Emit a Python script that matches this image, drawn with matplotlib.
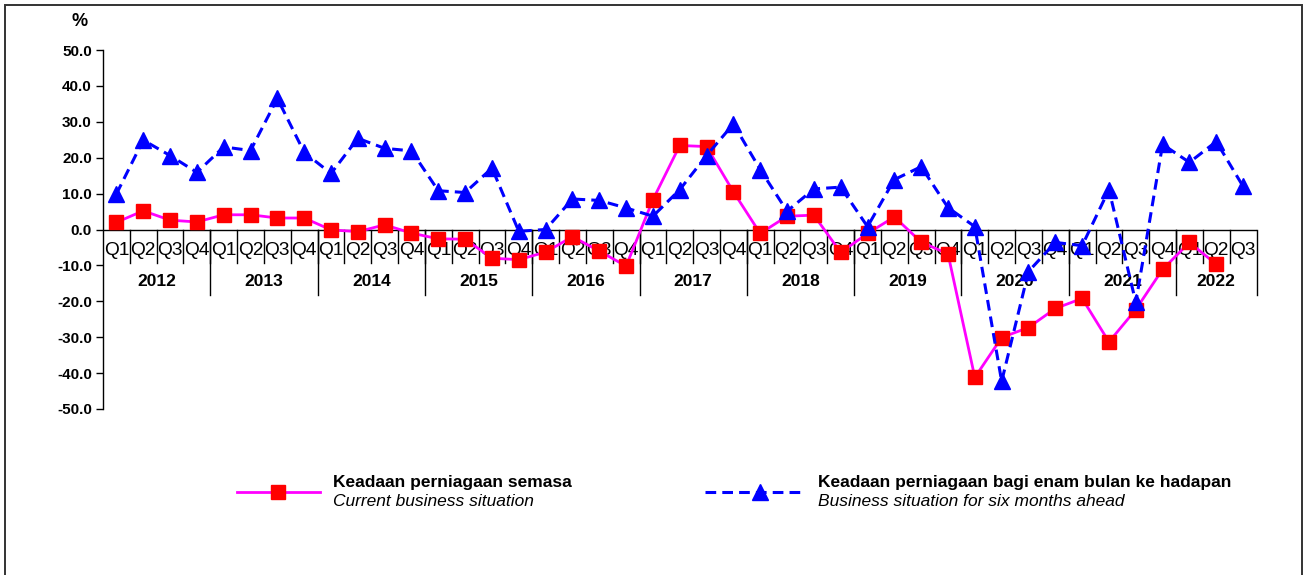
import matplotlib
matplotlib.use("Agg")
import matplotlib.pyplot as plt
from matplotlib.lines import Line2D
from matplotlib.patches import Rectangle
from matplotlib.ticker import FuncFormatter, MultipleLocator
import numpy as np

plt.rcParams['font.family'] = ['Liberation Sans', 'DejaVu Sans']

years = ['2012', '2013', '2014', '2015', '2016', '2017', '2018', '2019', '2020', '2021', '2022']
quarters = ['Q1', 'Q2', 'Q3', 'Q4']
n_last_year_q = 3

current = [2.0, 5.2, 2.6, 2.1,
           4.1, 4.1, 3.2, 3.2,
           -0.1, -0.6, 1.3, -1.0,
           -2.6, -2.7, -8.0, -8.4,
           -6.3, -2.0, -6.0, -10.2,
           8.3, 23.4, 23.1, 10.5,
           -1.1, 3.7, 4.0, -6.4,
           -1.1, 3.5, -3.5, -6.8,
           -41.2, -30.1, -27.3, -22.0,
           -19.2, -31.3, -22.3, -11.1,
           -3.6, -9.7, np.nan]

ahead = [9.9, 24.9, 20.6, 15.9,
         23.0, 22.0, 36.5, 21.5,
         15.6, 25.4, 22.6, 21.9,
         10.8, 10.3, 17.1, -0.5,
         0.0, 8.5, 8.1, 6.0,
         3.7, 11.1, 20.6, 29.4,
         16.7, 5.1, 11.3, 11.8,
         0.8, 13.9, 17.5, 6.1,
         0.8, -42.3, -11.7, -3.6,
         -4.5, 11.1, -20.3, 23.7,
         18.7, 24.5, 12.0]

label_current_bold = 'Keadaan perniagaan semasa'
label_current_it = 'Current business situation'
label_ahead_bold = 'Keadaan perniagaan bagi enam bulan ke hadapan'
label_ahead_it = 'Business situation for six months ahead'

W, H = 1310, 575
fig = plt.figure(figsize=(W / 100, H / 100), dpi=100)

# figure frame
fig.add_artist(Rectangle((5 / W, -0.01), (1302 - 5) / W, 1 - 5 / H + 0.01,
                         transform=fig.transFigure, fill=False,
                         edgecolor='#333333', lw=1.4))

ax_left, ax_right = 103 / W, 1256.5 / W
ax_top, ax_bot = 1 - 50 / H, 1 - 409 / H
ax = fig.add_axes([ax_left, ax_bot, ax_right - ax_left, ax_top - ax_bot])

n = len(ahead)
x = np.arange(n)

ax.plot(x, current, color='#FF00FF', lw=2.0, marker='s', markersize=10,
        markerfacecolor='#FF0000', markeredgecolor='#FF0000', zorder=4,
        clip_on=False)
ax.plot(x, ahead, color='#0000FF', lw=2.2, linestyle=(0, (3.5, 2)),
        marker='^', markersize=11, markerfacecolor='#0000FF',
        markeredgecolor='#0000FF', zorder=5, clip_on=False)

ax.set_xlim(-0.5, n - 0.5)
ax.set_ylim(-50, 50)
ax.yaxis.set_major_locator(MultipleLocator(10))
ax.yaxis.set_major_formatter(FuncFormatter(lambda v, p: f"{v:.1f}"))
ax.tick_params(axis='y', direction='out', length=5, width=1, pad=3,
               labelsize=11)
for lbl in ax.get_yticklabels():
    lbl.set_fontweight('bold')
ax.set_xticks([])
for s in ['top', 'right', 'bottom']:
    ax.spines[s].set_visible(False)
ax.spines['left'].set_linewidth(1)

# category axis at zero
ax.axhline(0, color='black', lw=1, zorder=2)
px = 100 / (409 - 50)  # data units per pixel
q_sep_bottom = -(263 - 230) * px
y_sep_bottom = -(295 - 230) * px
q_lab_y = -(251 - 230) * px
y_lab_y = -(282 - 230) * px

labels_q = []
for yi, yr in enumerate(years):
    nq = 4 if yi < len(years) - 1 else n_last_year_q
    labels_q += quarters[:nq]

for i, q in enumerate(labels_q):
    ax.text(i, q_lab_y, q, ha='center', va='center', fontsize=13.8, zorder=1)
    if i < n - 1:
        ax.plot([i + 0.5, i + 0.5], [0, q_sep_bottom], color='black', lw=1,
                zorder=1)

start = 0
for yi, yr in enumerate(years):
    nq = 4 if yi < len(years) - 1 else n_last_year_q
    center = start + (nq - 1) / 2
    ax.text(center, y_lab_y, yr, ha='center', va='center', fontsize=12.5,
            fontweight='bold', zorder=1)
    end = start + nq - 0.5
    ax.plot([end, end], [0, y_sep_bottom], color='black', lw=1, zorder=1,
            clip_on=False)
    start += nq

fig.text(80 / W, 1 - 22 / H, '%', ha='center', va='center', fontsize=13,
         fontweight='bold')

# legend
def fx(p):
    return p / W

def fy(p):
    return 1 - p / H

ly = 492
fig.add_artist(Line2D([fx(237), fx(320)], [fy(ly), fy(ly)], color='#FF00FF',
                      lw=2.0, transform=fig.transFigure))
fig.add_artist(Line2D([fx(278)], [fy(ly)], marker='s', markersize=10,
                      color='#FF0000', linestyle='none',
                      transform=fig.transFigure))
fig.text(fx(333), fy(483), label_current_bold, fontsize=12.5, fontweight='bold',
         ha='left', va='center')
fig.text(fx(333), fy(502), label_current_it, fontsize=12.5, style='italic',
         ha='left', va='center')

fig.add_artist(Line2D([fx(705), fx(805)], [fy(ly), fy(ly)], color='#0000FF',
                      lw=2.2, linestyle=(0, (3.5, 2)),
                      transform=fig.transFigure))
fig.add_artist(Line2D([fx(760)], [fy(ly)], marker='^', markersize=11,
                      color='#0000FF', linestyle='none',
                      transform=fig.transFigure))
fig.text(fx(818), fy(483), label_ahead_bold, fontsize=12.5, fontweight='bold',
         ha='left', va='center')
fig.text(fx(818), fy(502), label_ahead_it, fontsize=12.5, style='italic',
         ha='left', va='center')

fig.savefig('out.png', dpi=100)
